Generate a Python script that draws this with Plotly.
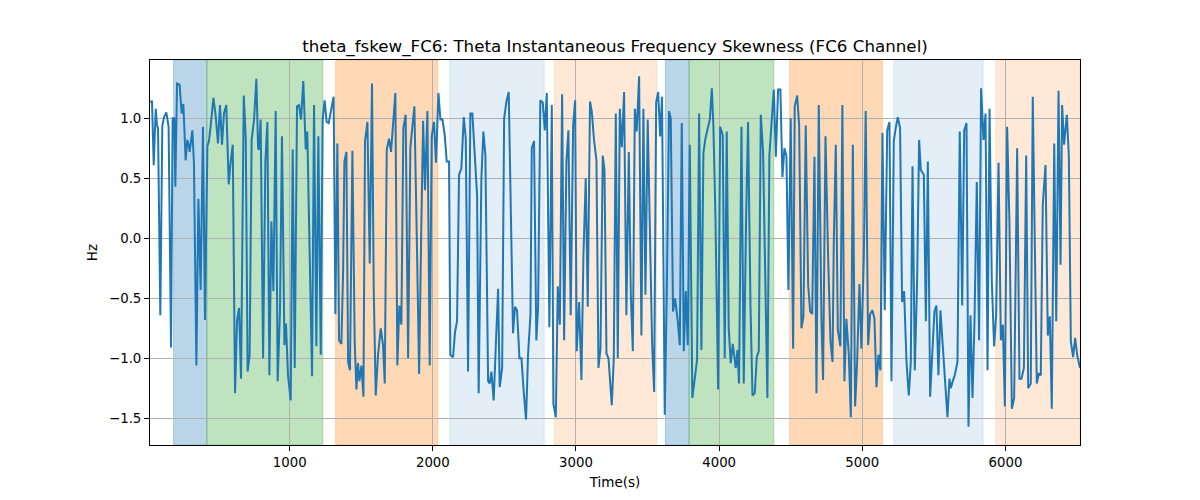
import plotly.graph_objects as go

# ---- data ----
time_s = [
    24, 38, 50, 64, 73, 80, 96, 110, 122, 138, 154, 171, 182, 194, 201, 213, 231, 245, 257, 273,
    285, 294, 301, 320, 331, 348, 362, 378, 394, 408, 425, 436, 448, 467, 483, 499, 513, 527, 541, 557,
    574, 585, 602, 618, 632, 646, 660, 679, 693, 706, 720, 734, 751, 767,
    779, 786, 797, 814, 830, 844, 858, 872, 886, 902, 916, 932, 946, 963, 974, 988, 1007, 1021, 1035, 1051,
    1065, 1079, 1095, 1112, 1123, 1140, 1156, 1170, 1186, 1200, 1217, 1230, 1244, 1258, 1272, 1291, 1307, 1319, 1333, 1345,
    1361, 1373, 1382, 1396, 1408, 1421, 1438, 1454, 1466, 1477, 1487, 1501, 1515, 1526, 1543, 1559,
    1575, 1587, 1601, 1617, 1636, 1652, 1664, 1678, 1694, 1708, 1722, 1738, 1752, 1766, 1780, 1794, 1810, 1827, 1843, 1857,
    1871, 1890, 1904, 1920, 1932, 1945, 1962, 1978, 1992, 2008, 2022, 2039, 2053, 2067, 2083, 2097, 2113, 2122, 2141, 2155,
    2169, 2183, 2199, 2216, 2230, 2246, 2262, 2276, 2295, 2309, 2320, 2339, 2353, 2367,
    2386, 2397, 2409, 2425, 2439, 2456, 2467, 2484, 2498, 2514, 2530, 2544, 2560, 2574, 2588, 2605, 2619, 2635, 2651, 2665,
    2682, 2691, 2707, 2723, 2735, 2751, 2768, 2782, 2796, 2814, 2831, 2842, 2859, 2873, 2887, 2903, 2917, 2933, 2947, 2963,
    2980, 2994, 3005, 3022, 3038, 3052, 3068, 3082, 3098, 3110, 3126, 3143, 3157, 3171,
    3187, 3199, 3213, 3227, 3236, 3250, 3264, 3278, 3292, 3306, 3320, 3336, 3352, 3369, 3383, 3397, 3411, 3424, 3441, 3457,
    3471, 3485, 3501, 3518, 3532, 3546, 3560, 3574, 3588, 3601, 3620, 3634, 3650, 3662, 3678, 3692, 3711, 3725, 3739, 3753,
    3767, 3781, 3795, 3813, 3830, 3846, 3860, 3876, 3890, 3904, 3921, 3935, 3949, 3960, 3974,
    3993, 4007, 4025, 4039, 4053, 4067, 4081, 4095, 4105, 4116, 4128, 4139, 4156, 4172, 4188, 4202, 4219, 4233, 4249, 4263,
    4277, 4291, 4307, 4323, 4337, 4351, 4365, 4382, 4396, 4412, 4428, 4442, 4456, 4470, 4484, 4500, 4517, 4528, 4545, 4559,
    4575, 4589, 4605, 4622, 4636, 4650, 4666, 4680, 4696, 4715, 4726, 4743, 4761, 4778, 4792,
    4801, 4815, 4829, 4847, 4861, 4875, 4889, 4906, 4920, 4934, 4950, 4964, 4980, 4994, 5011, 5024, 5041, 5055, 5071, 5085,
    5099, 5113, 5127, 5141, 5157, 5174, 5190, 5204, 5220, 5234, 5248, 5264, 5278, 5292, 5309, 5325, 5339, 5351, 5367, 5383,
    5397, 5409, 5430, 5444, 5458, 5474, 5490, 5504, 5518, 5532, 5546, 5565, 5579,
    5595, 5609, 5618, 5632, 5646, 5665, 5681, 5698, 5712, 5728, 5742, 5756, 5770, 5784, 5800, 5816, 5830, 5847, 5861, 5875,
    5889, 5905, 5921, 5935, 5952, 5968, 5982, 5996, 6012, 6028, 6045, 6061, 6082, 6098, 6112, 6129, 6145, 6159, 6177, 6191,
    6205, 6219, 6233, 6247, 6261, 6280, 6296, 6310, 6324, 6341, 6355, 6371, 6385, 6396, 6410, 6429, 6443, 6457, 6473, 6487,
    6501, 6521,
]

skew_hz = [
    1.14, 1.14, 0.61, 1.08, 0.94, 0.92, -0.64, 0.94, 1.01, 1.05, 0.93, -0.91, 1.0, 1.0, 0.43, 1.29, 1.28, 1.04, 1.12, 0.65,
    0.82, 0.78, 0.72, 0.90, 0.63, -1.06, 0.33, -0.43, 0.93, -0.68, 0.77, 0.81, 0.94, 1.17, 1.02, 0.79, 1.11, 0.78, 1.04, 1.11,
    0.45, 0.61, 0.78, -1.29, -0.69, -0.58, -1.17, 1.19, 0.83, -1.11, -0.97, 0.82, 0.99, 1.33,
    0.75, 0.74, 0.99, -1.0, 0.64, 0.97, -1.14, 0.14, -0.44, 1.06, -1.19, -0.61, 0.85, -0.89, -0.71, -1.14, -1.35, 0.74, -1.08, 1.10,
    1.11, 0.99, 1.31, 0.74, 0.89, -0.14, -1.15, 1.11, -0.90, 0.85, -0.97, 0.99, 1.15, 0.97, 0.96, 1.08, 1.18, -0.63, 0.79, -0.85,
    -0.88, -0.28, 0.64, 0.72, -1.03, -1.10, 0.73, -0.86, -1.26, -1.04, -1.19, -1.06, -1.32, 0.81, 0.97, -0.21,
    1.29, -0.42, -1.31, -0.97, -0.75, -0.89, -1.21, 0.74, 0.83, 0.72, 0.97, 1.21, -1.06, -0.56, -0.72, 0.92, 1.03, -1.0, 0.76, 0.94,
    1.10, -0.14, -1.13, 0.14, 0.98, 0.40, 1.06, -1.06, 0.85, 0.97, 0.63, 1.21, 0.99, 0.99, 0.86, 0.64, 0.64, -0.97, -0.99, -0.78,
    -0.69, 0.53, 0.58, 1.01, 0.83, -1.11, 1.04, 1.04, 0.69, 0.36, -1.29, 0.5, 0.89, 0.69,
    -1.19, -1.21, -1.11, -1.35, -0.92, -0.42, -1.24, -1.08, 1.0, 1.14, 1.22, 0.22, -0.79, -0.57, -0.60, -1.0, -1.0, -1.28, -1.51, -0.97,
    -0.64, 0.75, 0.81, -0.85, -0.58, 1.15, 1.13, 0.90, 1.21, -0.74, 1.11, -1.38, -1.49, -0.40, -0.72, 1.20, -0.85, 0.64, 0.90, -0.64,
    0.94, 1.15, -0.94, -0.53, -1.18, -0.14, 0.5, -0.57, 1.14, 1.06, 0.82, 0.65, -1.08, -0.92,
    0.69, 0.57, -0.96, -1.0, -1.13, -1.39, -1.0, 1.04, -1.0, 1.08, 0.76, 1.22, -0.64, 0.72, -0.47, -0.94, 1.08, 0.89, 1.35, -0.81,
    1.08, -0.47, 0.99, -0.19, -0.89, -1.28, 1.13, 1.22, 0.85, 1.18, -1.47, -0.47, 1.06, 1.0, -0.61, -0.5, -0.69, -0.89, 0.96, -0.94,
    -0.44, -0.89, 0.78, -1.33, -1.14, -1.01, 1.04, -0.93, 0.71, 0.83, 0.92, 0.99, 1.25, 0.93, 0.19,
    -1.26, 0.93, 0.86, -1.0, 0.89, -0.75, -1.04, -0.88, -0.99, -1.08, -0.93, -1.21, 0.93, -1.21, 0.14, 0.97, -0.56, -1.31, -1.29, -0.99,
    -0.94, 1.03, 0.72, -0.28, -1.33, 0.69, 0.94, 1.24, 0.68, 1.24, 1.24, 0.51, 0.75, 0.69, -0.43, 1.0, -0.92, 1.10, 1.19, 0.94,
    -0.75, -0.65, 0.94, -0.39, -0.61, -0.63, 0.68, -1.29, 1.11, -0.69, -1.18, 0.85, -0.14, -0.86, -1.03,
    -0.03, 0.78, -0.76, -0.90, 1.11, -1.19, -0.67, -0.97, -1.49, 0.78, -1.40, -1.03, -0.38, -0.92, -0.14, 1.06, -0.89, -0.63, -0.60, -0.67,
    -1.24, -0.97, -1.10, 0.88, -0.60, 0.90, 0.97, -1.19, 0.81, 0.92, 1.01, 0.92, -0.53, -0.44, -1.03, -1.31, -1.03, 0.60, -1.10, -0.36,
    0.82, 0.57, 0.53, -0.69, 0.64, -1.32, -0.89, -0.61, -0.56, -1.14, -0.60, -0.92, -1.14,
    -1.49, -1.17, -1.25, -1.19, -1.14, -1.03, 0.89, -0.56, 0.90, 0.96, -1.57, -0.64, -1.33, -0.69, 0.47, -0.85, 1.25, 0.82, 1.04, -1.10,
    1.08, -0.36, -0.90, -0.64, 0.63, -0.85, -0.72, -1.40, 0.93, 0.14, -1.42, -1.33, 0.75, -1.17, -1.17, -1.08, 0.69, -1.25, -1.21, 1.18,
    -0.03, -1.21, -1.13, -1.14, 0.28, 0.61, -0.81, -0.65, -1.42, 0.79, -0.69, 1.23, -0.22, 1.11, 0.78, 1.03, 0.69, -0.86, -0.99, -0.83,
    -0.97, -1.08,
]

# shaded segments: (start, end, colour family, strength)
span_start = [189, 421, 1321, 2118, 2849, 3625, 3790, 4493, 5220, 5933]
span_end = [421, 1232, 2034, 2778, 3563, 3790, 4382, 5140, 5844, 6521]
span_kind = ["blue", "green", "orange", "blue_l", "orange_l", "blue", "green", "orange", "blue_l", "orange_l"]

kind_fill = {
    "blue": "rgba(31,119,180,0.30)",
    "green": "rgba(44,160,44,0.30)",
    "orange": "rgba(255,127,14,0.30)",
    "blue_l": "rgba(31,119,180,0.12)",
    "orange_l": "rgba(255,127,14,0.17)",
}

y_ticks = [-1.5, -1.0, -0.5, 0.0, 0.5, 1.0]
y_ticktext = [("\u2212" if v < 0 else "") + f"{abs(v):.1f}" for v in y_ticks]
x_ticks = [1000, 2000, 3000, 4000, 5000, 6000]

fig = go.Figure()

for s, e, k in zip(span_start, span_end, span_kind):
    fig.add_shape(
        type="rect", xref="x", yref="paper", x0=s, x1=e, y0=0, y1=1,
        fillcolor=kind_fill[k], line=dict(color=kind_fill[k], width=1), layer="between",
    )

fig.add_trace(go.Scatter(
    x=time_s, y=skew_hz, mode="lines",
    line=dict(color="#1f77b4", width=2), showlegend=False,
))

font_family = "DejaVu Sans"
fig.update_layout(
    width=1200, height=500,
    margin=dict(l=150, r=120, t=60, b=55),
    paper_bgcolor="white", plot_bgcolor="white",
    font=dict(family=font_family, size=13, color="black"),
    title=dict(
        text="theta_fskew_FC6: Theta Instantaneous Frequency Skewness (FC6 Channel)",
        x=615 / 1200, xanchor="center", xref="container",
        y=1 - 46 / 500, yanchor="middle", yref="container",
        font=dict(size=16.7, family=font_family, color="black"),
    ),
)
fig.update_xaxes(
    range=[time_s[0], time_s[-1]],
    tickvals=x_ticks, ticks="outside", ticklen=5, tickwidth=1, tickcolor="black",
    showgrid=True, gridcolor="#b0b0b0", gridwidth=0.8,
    showline=True, linecolor="black", linewidth=1, mirror=True, zeroline=False,
    title=dict(text="Time(s)", standoff=8, font=dict(size=13.5)),
    tickfont=dict(size=13.3),
)
fig.update_yaxes(
    range=[-1.722, 1.486],
    tickvals=y_ticks, ticktext=y_ticktext, ticks="outside", ticklen=5, tickwidth=1, tickcolor="black",
    showgrid=True, gridcolor="#b0b0b0", gridwidth=0.8,
    showline=True, linecolor="black", linewidth=1, mirror=True, zeroline=False,
    title=dict(text="Hz", standoff=8, font=dict(size=13.5)),
    tickfont=dict(size=13.3),
)

fig.write_html("out.html", config={"displayModeBar": False})

# remove the browser's default page margin so the figure sits at the window origin
with open("out.html", "r", encoding="utf-8") as fh:
    html = fh.read()
html = html.replace("<body>", '<body style="margin:0;padding:0;">', 1)
with open("out.html", "w", encoding="utf-8") as fh:
    fh.write(html)
